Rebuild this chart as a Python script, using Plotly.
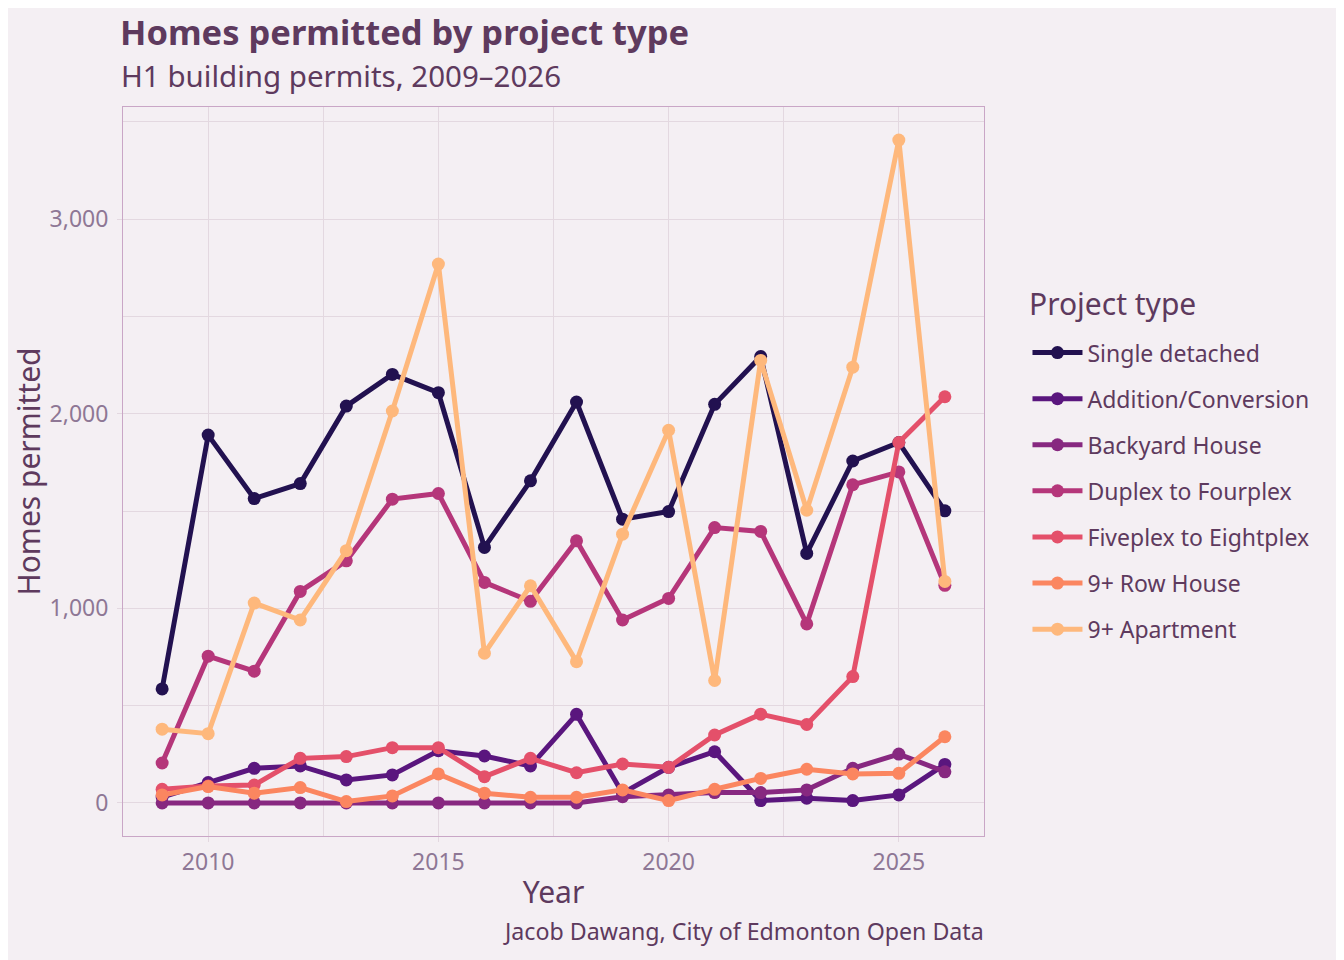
import plotly.graph_objects as go

years = list(range(2009, 2027))

single_detached = [586, 1890, 1564, 1641, 2039, 2202, 2108, 1313, 1655, 2060, 1458, 1497, 2048, 2294, 1282, 1757, 1852, 1501]
addition_conversion = [30, 105, 178, 190, 118, 144, 268, 241, 190, 455, 50, 183, 263, 12, 24, 12, 41, 198]
backyard_house = [0, 0, 0, 0, 0, 0, 0, 0, 0, 0, 32, 41, 53, 53, 67, 178, 251, 160]
duplex_fourplex = [205, 754, 677, 1087, 1244, 1561, 1590, 1133, 1036, 1347, 940, 1051, 1415, 1395, 920, 1635, 1701, 1118]
fiveplex_eightplex = [70, 87, 92, 229, 238, 284, 284, 135, 229, 155, 200, 183, 349, 456, 403, 649, 1852, 2087]
row_house = [41, 84, 50, 79, 7, 36, 149, 50, 29, 29, 67, 12, 70, 126, 173, 149, 152, 340]
apartment = [379, 356, 1027, 940, 1296, 2014, 2769, 769, 1116, 726, 1381, 1915, 629, 2274, 1504, 2239, 3406, 1138]

series_names = ["Single detached", "Addition/Conversion", "Backyard House", "Duplex to Fourplex",
                "Fiveplex to Eightplex", "9+ Row House", "9+ Apartment"]
series_values = [single_detached, addition_conversion, backyard_house, duplex_fourplex,
                 fiveplex_eightplex, row_house, apartment]
colors = ["#221150", "#5A167E", "#872880", "#B5367A", "#E4506A", "#FB8660", "#FEB87C"]

bg = "#F4EFF3"
text_col = "#5E3A5E"
tick_col = "#8E7795"
grid_col = "#E3D8E0"
font = "Noto Sans"

fig = go.Figure()

for i, (name, vals) in enumerate(zip(series_names, series_values)):
    fig.add_trace(go.Scatter(
        x=years, y=vals, name=name, mode="lines+markers",
        line=dict(color=colors[i], width=5),
        marker=dict(color=colors[i], size=13),
        legendgroup=name,
    ))

# page adds ~7px offset, so margins are shifted to land the plot where the original sits
fig.update_layout(
    width=1344, height=960,
    paper_bgcolor=bg, plot_bgcolor=bg,
    margin=dict(l=115, r=368, t=99, b=132),
    font=dict(family=font, color=text_col),
    legend=dict(
        font=dict(size=23, color=text_col),
        x=1.0505, xanchor="left", y=0.6926, yanchor="top",
        itemwidth=50, tracegroupgap=13.2, bgcolor="rgba(0,0,0,0)",
    ),
    annotations=[
        dict(text="<b>Homes permitted by project type</b>", x=-0.0046, y=1.1035, xref="paper", yref="paper",
             xanchor="left", yanchor="middle", showarrow=False, borderpad=0,
             font=dict(size=34.5, color=text_col)),
        dict(text="H1 building permits, 2009–2026", x=-0.0046, y=1.043, xref="paper", yref="paper",
             xanchor="left", yanchor="middle", showarrow=False, font=dict(size=29.5, color=text_col)),
        dict(text="Project type", x=1.0494, y=0.73, xref="paper", yref="paper",
             xanchor="left", yanchor="middle", showarrow=False, font=dict(size=30, color=text_col)),
        dict(text="Jacob Dawang, City of Edmonton Open Data", x=1.002, y=-0.13, xref="paper", yref="paper",
             xanchor="right", yanchor="middle", showarrow=False, font=dict(size=23.2, color=text_col)),
    ],
)

fig.update_xaxes(
    range=[2008.15, 2026.85], tickvals=[2010, 2015, 2020, 2025],
    tickfont=dict(size=23, color=tick_col),
    ticks="outside", ticklen=5, tickcolor=grid_col,
    showgrid=True, gridcolor=grid_col, gridwidth=1.2,
    minor=dict(tickvals=[2012.5, 2017.5, 2022.5], showgrid=True, gridcolor=grid_col, gridwidth=0.8),
    showline=True, linecolor="#C9A6C6", linewidth=1, mirror=True, zeroline=False,
    title=dict(text="Year", font=dict(size=30, color=text_col), standoff=6),
)
fig.update_yaxes(
    range=[-170, 3576], tickvals=[0, 1000, 2000, 3000], tickformat=",",
    tickfont=dict(size=23, color=tick_col),
    ticks="outside", ticklen=5, tickcolor=grid_col, ticklabelstandoff=4,
    showgrid=True, gridcolor=grid_col, gridwidth=1.2,
    minor=dict(tickvals=[500, 1500, 2500, 3500], showgrid=True, gridcolor=grid_col, gridwidth=0.8),
    showline=True, linecolor="#C9A6C6", linewidth=1, mirror=True, zeroline=False,
    title=dict(text="Homes permitted", font=dict(size=30, color=text_col), standoff=10),
)

fig.write_html("out.html")
